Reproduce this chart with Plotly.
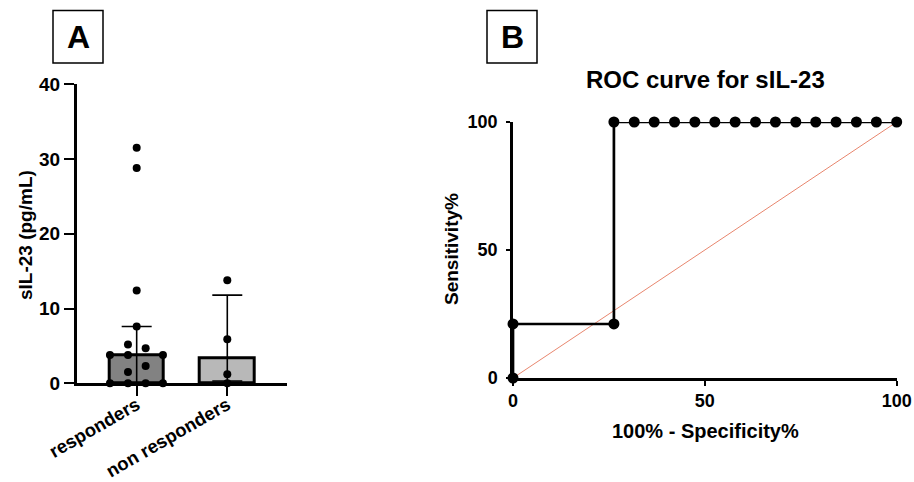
import plotly.graph_objects as go

# ---------------- data ----------------
groups = ["responders", "non responders"]
group_pos = [0, 1]
medians = [3.8, 3.4]
lower_q = [0.0, 0.3]
upper_q = [7.6, 11.8]

responders_vals = [31.5, 28.8, 12.4, 7.6, 5.2, 4.7, 3.8, 3.8, 3.8, 2.3, 1.5, 0.0, 0.0, 0.0, 0.0]
responders_jitter = [0, 0, 0, 0, -0.096, 0.099, -0.295, -0.096, 0.29, 0.099, -0.096, -0.295, -0.096, 0.099, 0.29]
nonresp_vals = [13.8, 5.9, 1.2, 0.0]
nonresp_jitter = [0, 0, 0, 0]

bar_colors = ["#828282", "#b8b8b8"]

roc_fpr = [0, 0, 26.3, 26.3, 31.6, 36.8, 42.1, 47.4, 52.6, 57.9, 63.2, 68.4,
           73.7, 78.9, 84.2, 89.5, 94.7, 100]
roc_sens = [0, 21.1, 21.1, 100, 100, 100, 100, 100, 100, 100, 100, 100,
            100, 100, 100, 100, 100, 100]
ref_x = [0, 100]
ref_y = [0, 100]

# ---------------- figure ----------------
W, H = 914, 482
FONT = "Liberation Sans, Arial, sans-serif"

def px_x(p):
    return p / W

def px_y(p):
    return 1 - p / H

fig = go.Figure()

err_plus = [u - m for u, m in zip(upper_q, medians)]
err_minus = [m - l for m, l in zip(medians, lower_q)]

for i in range(2):
    fig.add_trace(go.Bar(
        x=[group_pos[i]], y=[medians[i]], width=0.6,
        marker=dict(color=bar_colors[i], line=dict(color="black", width=3)),
        error_y=dict(type="data", symmetric=False, array=[err_plus[i]],
                     arrayminus=[err_minus[i]], color="black", thickness=1.6, width=15),
        xaxis="x", yaxis="y", showlegend=False, hoverinfo="skip",
    ))

fig.add_trace(go.Scatter(
    x=[group_pos[0] + j for j in responders_jitter], y=responders_vals,
    mode="markers", marker=dict(color="black", size=8),
    xaxis="x", yaxis="y", cliponaxis=False, showlegend=False,
))
fig.add_trace(go.Scatter(
    x=[group_pos[1] + j for j in nonresp_jitter], y=nonresp_vals,
    mode="markers", marker=dict(color="black", size=8),
    xaxis="x", yaxis="y", cliponaxis=False, showlegend=False,
))

# ROC
fig.add_trace(go.Scatter(
    x=ref_x, y=ref_y, mode="lines", line=dict(color="#e8866e", width=1),
    xaxis="x2", yaxis="y2", showlegend=False, hoverinfo="skip",
))
fig.add_trace(go.Scatter(
    x=roc_fpr, y=roc_sens, mode="lines+markers",
    line=dict(color="black", width=2.7),
    marker=dict(color="black", size=11),
    xaxis="x2", yaxis="y2", cliponaxis=False, showlegend=False,
))

def tf(size):
    return dict(family=FONT, size=size, color="black", weight="bold")

axis_common = dict(showgrid=False, zeroline=False, showline=True, linecolor="black",
                   linewidth=2.5, ticks="outside", tickcolor="black", tickwidth=2,
                   fixedrange=True, automargin=False)

fig.update_layout(
    template="none",
    width=W, height=H,
    margin=dict(l=0, r=0, t=0, b=0, pad=0),
    paper_bgcolor="white", plot_bgcolor="white",
    showlegend=False, bargap=0,
    xaxis=dict(domain=[px_x(76.7), px_x(287)], range=[-0.662, 1.659],
               tickvals=group_pos, ticktext=groups, tickangle=-30, ticklen=10,
               ticklabelstandoff=-9, tickfont=tf(18.5), anchor="y", **axis_common),
    yaxis=dict(domain=[px_y(383.3), px_y(84.3)], range=[0, 40],
               tickvals=[0, 10, 20, 30, 40], ticklen=10, tickfont=tf(19),
               anchor="x", **axis_common),
    xaxis2=dict(domain=[px_x(513), px_x(896.7)], range=[0, 100],
                tickvals=[0, 50, 100], ticklen=5, tickfont=tf(18),
                anchor="y2", **axis_common),
    yaxis2=dict(domain=[px_y(378), px_y(122)], range=[0, 100],
                tickvals=[0, 50, 100], ticklen=4, anchor="x2", ticklabelstandoff=5,
                tickfont=tf(18), **axis_common),
)

bold = dict(family=FONT, color="black", weight="bold")

annotations = [
    dict(text="A", x=px_x(78), y=px_y(37), font=dict(size=32, **bold)),
    dict(text="B", x=px_x(512), y=px_y(37), font=dict(size=32, **bold)),
    dict(text="ROC curve for sIL-23", x=px_x(705), y=px_y(80), font=dict(size=24, **bold)),
    dict(text="sIL-23 (pg/mL)", x=px_x(25), y=px_y(235), textangle=-90,
         font=dict(size=19, **bold)),
    dict(text="Sensitivity%", x=px_x(451), y=px_y(249), textangle=-90,
         font=dict(size=19, **bold)),
    dict(text="100% - Specificity%", x=px_x(705), y=px_y(431), font=dict(size=20, **bold)),
]
for a in annotations:
    a.update(xref="paper", yref="paper", showarrow=False, xanchor="center", yanchor="middle")
fig.update_layout(annotations=annotations)

fig.add_shape(type="rect", xref="paper", yref="paper",
              x0=px_x(53), x1=px_x(103), y0=px_y(63), y1=px_y(10.5),
              line=dict(color="black", width=1.5))
fig.add_shape(type="rect", xref="paper", yref="paper",
              x0=px_x(487), x1=px_x(537), y0=px_y(63), y1=px_y(10.5),
              line=dict(color="black", width=1.5))

fig.write_html(
    "out.html",
    config={"displayModeBar": False},
    post_script="document.body.style.margin='0';document.body.style.overflow='hidden';",
)
